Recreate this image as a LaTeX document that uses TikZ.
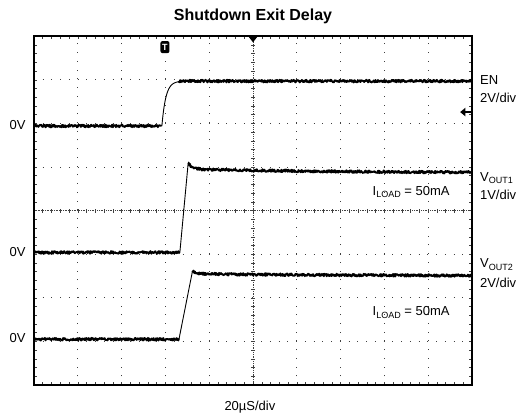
\documentclass[tikz,border=0pt]{standalone}
\usepackage{fontspec}
\setmainfont{Liberation Sans}
\usetikzlibrary{calc}
\newcommand{\lowsub}[1]{\raisebox{-0.35ex}{\fontsize{9}{9}\selectfont #1}}
\tikzset{
    trace/.style = {line width=1.9pt, line join=round},
    edgeline/.style = {line width=0.9pt},
    griddots/.style = {line width=0.8pt, dash pattern=on 0.8pt off 7.94pt, black!75},
    centerdots/.style = {line width=0.6pt, dash pattern=on 0.6pt off 1.2pt, black!75},
    smalltick/.style = {line width=0.5pt, black!75},
    lbl/.style = {font=\fontsize{13}{15}\selectfont, inner sep=0pt},
}

\begin{document}
\begin{tikzpicture}[x=43.8pt, y=43.6pt]
            \useasboundingbox (-0.776,-0.642) rectangle (11.073,8.830);
            \pgfmathsetseed{7}

            \foreach \i in {1,2,3,4,6,7,8,9} \draw[griddots] (\i,0) -- (\i,8);
            \foreach \j in {1,2,3,5,6,7} \draw[griddots] (0,\j) -- (10,\j);
            \draw[centerdots] (5,0) -- (5,8);
            \draw[centerdots] (0,4) -- (10,4);
            \foreach \k in {1,...,49} \draw[smalltick] (\k/5,3.955) -- (\k/5,4.045);
            \foreach \k in {1,...,39} \draw[smalltick] (4.955,\k/5) -- (5.045,\k/5);
            \foreach \k in {1,...,49} {
                \draw[smalltick] (\k/5,8) -- (\k/5,7.93);
                \draw[smalltick] (\k/5,0) -- (\k/5,0.07);
            }
            \foreach \k in {1,...,39} {
                \draw[smalltick] (0,\k/5) -- (0.07,\k/5);
                \draw[smalltick] (10,\k/5) -- (9.93,\k/5);
            }
            \draw[line width=1.6pt] (0,0) rectangle (10,8);

            \draw[trace] plot[domain=0:2.92, samples=260] (\x, {5.94+0.03*rand});
            \draw[edgeline] plot[domain=2.92:3.45, samples=60] (\x, {5.94+1.03*(1-exp(-(\x-2.92)/0.09))});
            \draw[trace] plot[domain=3.3:10, samples=620] (\x, {6.97+0.03*rand});

            \draw[trace] plot[domain=0:3.33, samples=300] (\x, {3.04+0.03*rand});
            \draw[edgeline] (3.33,3.04) -- (3.52,5.09);
            \draw[trace] plot[domain=3.52:10, samples=600] (\x, {4.86+0.09*exp(-(\x-3.52)/4)+0.14*exp(-(\x-3.52)/0.1)+0.03*rand});

            \draw[trace] plot[domain=0:3.31, samples=300] (\x, {1.05+0.03*rand});
            \draw[edgeline] (3.31,1.05) -- (3.62,2.62);
            \draw[trace] plot[domain=3.62:10, samples=590] (\x, {2.50+0.05*exp(-(\x-3.62)/4)+0.07*exp(-(\x-3.62)/0.1)+0.03*rand});

            \node (trig) at (2.99,7.75) [fill=black, text=white, font=\bfseries\fontsize{9}{9}\selectfont, inner sep=0pt, rounded corners=2pt, minimum width=9pt, minimum height=12pt] {T};
            \fill (4.89,8) -- (5.11,8) -- (5,7.86) -- cycle;
            \fill (9.73,6.26) -- (9.85,6.36) -- (9.85,6.16) -- cycle;
            \draw[line width=1.2pt] (9.83,6.26) -- (10,6.26);

            \node (title) at (5,8.46) [font=\bfseries\fontsize{16}{19}\selectfont, inner sep=0pt] {Shutdown Exit Delay};
            \node (zeroen) at (-0.19,5.96) [lbl, anchor=east] {0V};
            \node (zeroa) at (-0.19,3.06) [lbl, anchor=east] {0V};
            \node (zerob) at (-0.19,1.07) [lbl, anchor=east] {0V};
            \node (en) at (10.18,7.0) [lbl, anchor=west] {EN};
            \node (enscale) at (10.18,6.58) [lbl, anchor=west] {2V/div};
            \node (vouta) at (10.18,4.74) [lbl, anchor=west] {V\lowsub{OUT1}};
            \node (voutascale) at (10.18,4.36) [lbl, anchor=west] {1V/div};
            \node (voutb) at (10.18,2.76) [lbl, anchor=west] {V\lowsub{OUT2}};
            \node (voutbscale) at (10.18,2.34) [lbl, anchor=west] {2V/div};
            \node (loada) at (8.61,4.43) [lbl] {I\lowsub{LOAD} = 50mA};
            \node (loadb) at (8.61,1.66) [lbl] {I\lowsub{LOAD} = 50mA};
            \node (timebase) at (4.93,-0.50) [lbl] {20µS/div};
\end{tikzpicture}
\end{document}
